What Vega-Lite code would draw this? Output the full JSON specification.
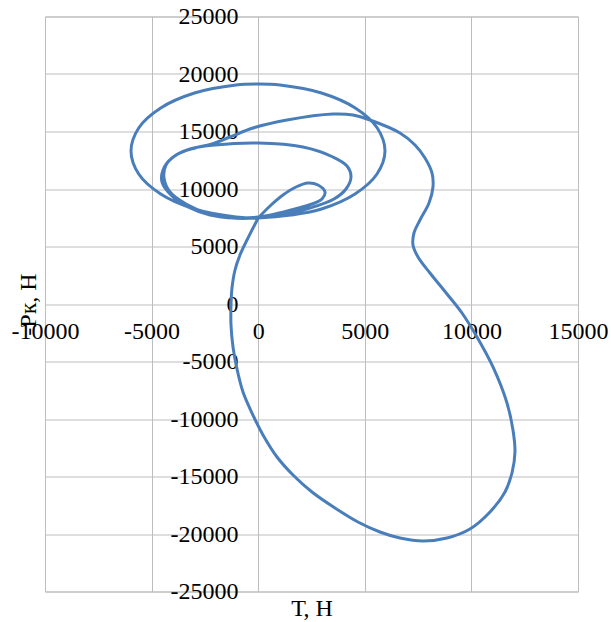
{
  "$schema": "https://vega.github.io/schema/vega-lite/v6.json",
  "width": 533,
  "height": 575,
  "autosize": {"type": "none"},
  "padding": {"left": 45, "top": 16.5, "right": 33, "bottom": 30.5},
  "background": "white",
  "config": {
    "view": {"stroke": "#bdbdbd", "strokeWidth": 1},
    "font": "Liberation Serif"
  },
  "data": {
    "values": [
      {"i": 1, "T": 0, "P": 7480},
      {"i": 2, "T": 553, "P": 8522},
      {"i": 3, "T": 1163, "P": 9479},
      {"i": 4, "T": 1773, "P": 10174},
      {"i": 5, "T": 2336, "P": 10522},
      {"i": 6, "T": 2805, "P": 10348},
      {"i": 7, "T": 3133, "P": 9740},
      {"i": 8, "T": 2992, "P": 9131},
      {"i": 9, "T": 2523, "P": 8696},
      {"i": 10, "T": 1726, "P": 8261},
      {"i": 11, "T": 788, "P": 7826},
      {"i": 12, "T": 0, "P": 7566},
      {"i": 13, "T": -1088, "P": 7479},
      {"i": 14, "T": -2261, "P": 7739},
      {"i": 15, "T": -3292, "P": 8435},
      {"i": 16, "T": -4043, "P": 9392},
      {"i": 17, "T": -4512, "P": 10609},
      {"i": 18, "T": -4465, "P": 11653},
      {"i": 19, "T": -4043, "P": 12696},
      {"i": 20, "T": -3199, "P": 13479},
      {"i": 21, "T": -2026, "P": 13827},
      {"i": 22, "T": 0, "P": 14001},
      {"i": 23, "T": 2101, "P": 13653},
      {"i": 24, "T": 3508, "P": 12783},
      {"i": 25, "T": 4165, "P": 12000},
      {"i": 26, "T": 4352, "P": 11044},
      {"i": 27, "T": 4118, "P": 10000},
      {"i": 28, "T": 3555, "P": 9131},
      {"i": 29, "T": 2429, "P": 8348},
      {"i": 30, "T": 1257, "P": 7826},
      {"i": 31, "T": 0, "P": 7479},
      {"i": 32, "T": -1041, "P": 7566},
      {"i": 33, "T": -2988, "P": 8261},
      {"i": 34, "T": -4573, "P": 9566},
      {"i": 35, "T": -5605, "P": 11305},
      {"i": 36, "T": -5966, "P": 13305},
      {"i": 37, "T": -5605, "P": 15305},
      {"i": 38, "T": -4573, "P": 17044},
      {"i": 39, "T": -2988, "P": 18349},
      {"i": 40, "T": -1041, "P": 19044},
      {"i": 41, "T": 0, "P": 19131},
      {"i": 42, "T": 1022, "P": 19044},
      {"i": 43, "T": 2969, "P": 18349},
      {"i": 44, "T": 4554, "P": 17044},
      {"i": 45, "T": 5586, "P": 15305},
      {"i": 46, "T": 5947, "P": 13305},
      {"i": 47, "T": 5572, "P": 11305},
      {"i": 48, "T": 4540, "P": 9566},
      {"i": 49, "T": 2969, "P": 8261},
      {"i": 50, "T": 1538, "P": 7739},
      {"i": 51, "T": 0, "P": 7479},
      {"i": 52, "T": -1229, "P": 7479},
      {"i": 53, "T": -2401, "P": 7913},
      {"i": 54, "T": -3386, "P": 8696},
      {"i": 55, "T": -4137, "P": 9740},
      {"i": 56, "T": -4418, "P": 10957},
      {"i": 57, "T": -4324, "P": 12087},
      {"i": 58, "T": -3855, "P": 12957},
      {"i": 59, "T": -2964, "P": 13566},
      {"i": 60, "T": -2167, "P": 13914},
      {"i": 61, "T": -1323, "P": 14522},
      {"i": 62, "T": -244, "P": 15305},
      {"i": 63, "T": 1351, "P": 16000},
      {"i": 64, "T": 3508, "P": 16522},
      {"i": 65, "T": 4446, "P": 16435},
      {"i": 66, "T": 5243, "P": 16000},
      {"i": 67, "T": 6650, "P": 14870},
      {"i": 68, "T": 7354, "P": 13827},
      {"i": 69, "T": 7823, "P": 12696},
      {"i": 70, "T": 8151, "P": 11392},
      {"i": 71, "T": 8198, "P": 10174},
      {"i": 72, "T": 8011, "P": 8783},
      {"i": 73, "T": 7588, "P": 7305},
      {"i": 74, "T": 7307, "P": 6174},
      {"i": 75, "T": 7260, "P": 5131},
      {"i": 76, "T": 7495, "P": 4087},
      {"i": 77, "T": 8057, "P": 2696},
      {"i": 78, "T": 8855, "P": 870},
      {"i": 79, "T": 9558, "P": -783},
      {"i": 80, "T": 10262, "P": -2870},
      {"i": 81, "T": 11012, "P": -5478},
      {"i": 82, "T": 11669, "P": -8609},
      {"i": 83, "T": 11950, "P": -10957},
      {"i": 84, "T": 12044, "P": -12870},
      {"i": 85, "T": 11903, "P": -14696},
      {"i": 86, "T": 11575, "P": -16348},
      {"i": 87, "T": 10872, "P": -18087},
      {"i": 88, "T": 9933, "P": -19566},
      {"i": 89, "T": 8855, "P": -20349},
      {"i": 90, "T": 7729, "P": -20610},
      {"i": 91, "T": 6650, "P": -20349},
      {"i": 92, "T": 5712, "P": -19827},
      {"i": 93, "T": 4680, "P": -18957},
      {"i": 94, "T": 3602, "P": -17740},
      {"i": 95, "T": 2523, "P": -16348},
      {"i": 96, "T": 1632, "P": -14870},
      {"i": 97, "T": 882, "P": -13305},
      {"i": 98, "T": 225, "P": -11392},
      {"i": 99, "T": -291, "P": -9479},
      {"i": 100, "T": -713, "P": -7652},
      {"i": 101, "T": -994, "P": -5653},
      {"i": 102, "T": -1182, "P": -3739},
      {"i": 103, "T": -1276, "P": -1826},
      {"i": 104, "T": -1276, "P": -87},
      {"i": 105, "T": -1229, "P": 1391},
      {"i": 106, "T": -1088, "P": 2957},
      {"i": 107, "T": -854, "P": 4261},
      {"i": 108, "T": -525, "P": 5565},
      {"i": 109, "T": 0, "P": 7480}
    ]
  },
  "mark": {"type": "line", "interpolate": "catmull-rom", "color": "#4a7ebb", "strokeWidth": 3, "clip": true},
  "encoding": {
    "order": {"field": "i", "type": "quantitative"},
    "x": {
      "field": "T", "type": "quantitative",
      "scale": {"domain": [-10000, 15000], "nice": false, "zero": false},
      "axis": {
        "title": "Т, Н",
        "values": [-10000, -5000, 0, 5000, 10000, 15000],
        "labelExpr": "'' + datum.value",
        "offset": -288,
        "domain": false,
        "ticks": false,
        "tickSize": 0,
        "grid": true,
        "gridColor": "#bdbdbd",
        "gridOpacity": 1,
        "labelFont": "Liberation Serif",
        "labelFontSize": 24,
        "labelColor": "#000000",
        "labelBaseline": "middle",
        "labelPadding": 28,
        "labelFlush": false,
        "labelOverlap": false,
        "labelBound": false,
        "titleFont": "Liberation Serif",
        "titleFontSize": 24,
        "titleFontWeight": "normal",
        "titleColor": "#000000",
        "titleBaseline": "middle",
        "titleY": 305
      }
    },
    "y": {
      "field": "P", "type": "quantitative",
      "scale": {"domain": [-25000, 25000], "nice": false, "zero": false},
      "axis": {
        "title": "-Рк, Н",
        "values": [-25000, -20000, -15000, -10000, -5000, 0, 5000, 10000, 15000, 20000, 25000],
        "labelExpr": "'' + datum.value",
        "offset": -213,
        "domain": false,
        "ticks": false,
        "tickSize": 0,
        "grid": true,
        "gridColor": "#bdbdbd",
        "gridOpacity": 1,
        "labelFont": "Liberation Serif",
        "labelFontSize": 24,
        "labelColor": "#000000",
        "labelPadding": 20,
        "labelFlush": false,
        "labelOverlap": false,
        "labelBound": false,
        "titleFont": "Liberation Serif",
        "titleFontSize": 24,
        "titleFontWeight": "normal",
        "titleColor": "#000000",
        "titleAngle": -90,
        "titleAlign": "center",
        "titleBaseline": "middle",
        "titleX": -230,
        "titleY": 287.5
      }
    }
  }
}
